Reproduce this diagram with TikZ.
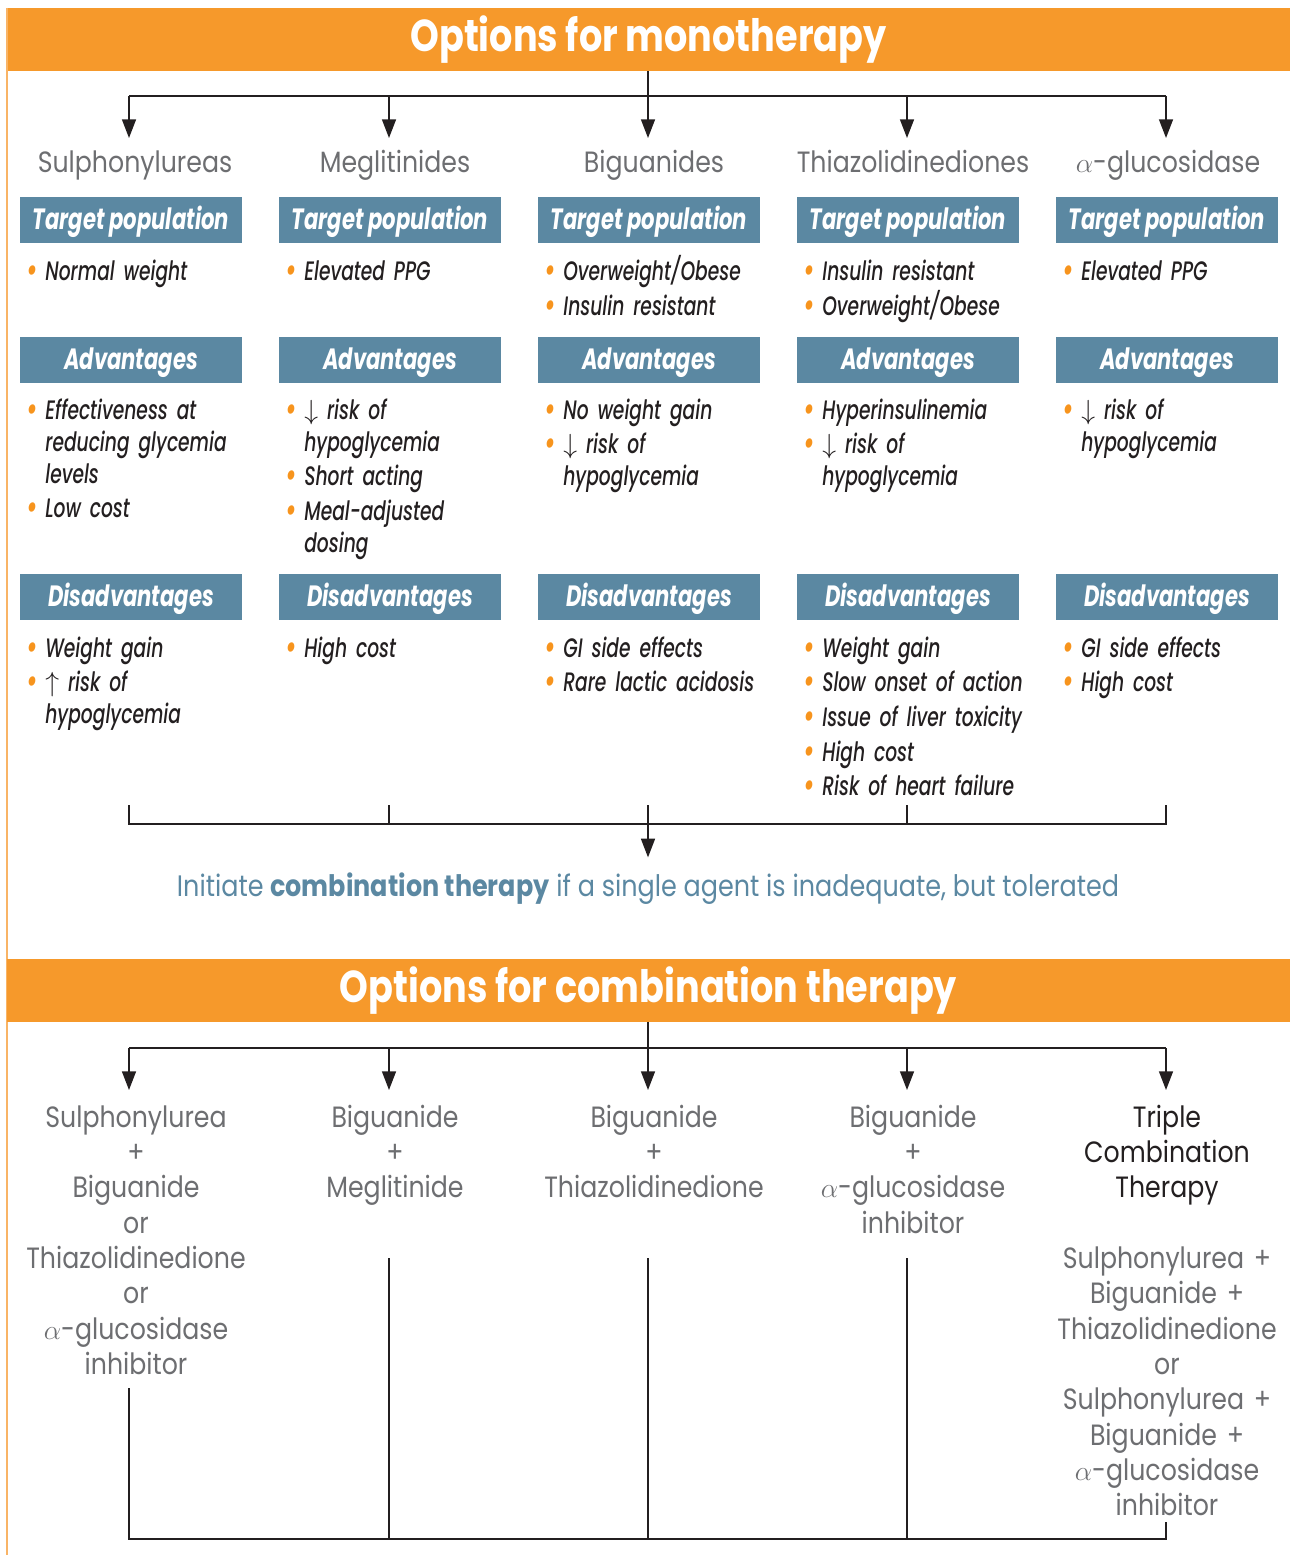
\documentclass[tikz,border=0pt]{standalone}
\usepackage{fontspec}
\setmainfont{Poppins}[FakeStretch=0.86]
\newfontfamily\bandfont{Poppins}[FakeStretch=0.82]
\newfontfamily\narrowfont{Poppins}[FakeStretch=0.72]
\newfontfamily\mednarrowfont{Poppins}[UprightFont={* Medium}, ItalicFont={* Medium Italic}, BoldFont={* Bold}, BoldItalicFont={* Bold Italic}, FakeStretch=0.7]
\usetikzlibrary{arrows.meta,positioning}
\definecolor{bandorange}{HTML}{F6992B}
\definecolor{edgeorange}{HTML}{F9B466}
\definecolor{dotorange}{HTML}{F7941D}
\definecolor{boxblue}{HTML}{5B88A2}
\definecolor{druggrey}{HTML}{6D6E71}
\definecolor{inkdark}{HTML}{231F20}
\newcommand{\itm}[1]{\hangindent=14.25pt\hangafter=1\noindent\makebox[14.25pt][l]{\raisebox{-1.5pt}{\textcolor{dotorange}{\fontsize{27}{24}\selectfont\textbullet}}}#1\par\vspace{2pt}}
\tikzset{%
band/.style={fill=bandorange, text=white, minimum width=962.25pt, minimum height=47pt, inner sep=0pt, font=\bandfont\bfseries\fontsize{33.5}{36}\selectfont},
hdbox/.style={fill=boxblue, text=white, minimum width=166.5pt, minimum height=34.5pt, inner sep=0pt, text height=19pt, text depth=5pt, font=\narrowfont\bfseries\itshape\fontsize{22}{26}\selectfont},
pts/.style={anchor=base west, xshift=4.75pt, inner sep=0pt, text width=180pt, align=left, text=inkdark, font=\mednarrowfont\itshape\fontsize{20}{24}\selectfont},
drug/.style={anchor=base, inner sep=0pt, text=druggrey, font=\fontsize{22}{26.5}\selectfont},
combo/.style={drug, text width=190pt, align=center},
link/.style={draw=inkdark, line width=1.1pt},
arr/.style={link, -{Triangle[length=14pt, width=10.5pt]}}
}
\begin{document}
\begin{tikzpicture}[x=0.75pt, y=-0.75pt]
	\useasboundingbox (0,0) rectangle (1290,1555);
	\node[band] (hdr1) at (648.5,39.5) {Options for monotherapy};
	\draw[edgeorange, line width=1.5pt] (hdr1.north west) -- (hdr1.north west |- 0,1555);
	
	\node[drug] (t1) at (135,173) {Sulphonylureas};
	\node[drug] (t2) at (395,173) {Meglitinides};
	\node[drug] (t3) at (654,173) {Biguanides};
	\node[drug] (t4) at (913,173) {Thiazolidinediones};
	\node[drug] (t5) at (1168,173) {$\alpha$-glucosidase};
	
	\node[hdbox] (tp1) at (131,220.5) {Target population};
	\node[hdbox] (tp2) at (390,220.5) {Target population};
	\node[hdbox] (tp3) at (649,220.5) {Target population};
	\node[hdbox] (tp4) at (908,220.5) {Target population};
	\node[hdbox] (tp5) at (1167,220.5) {Target population};
	\node[below=27.75pt of tp1.south west, pts] (tl1) {\itm{Normal weight}};
	\node[below=27.75pt of tp2.south west, pts] (tl2) {\itm{Elevated PPG}};
	\node[below=27.75pt of tp3.south west, pts] (tl3) {\itm{Overweight/Obese}\itm{Insulin resistant}};
	\node[below=27.75pt of tp4.south west, pts] (tl4) {\itm{Insulin resistant}\itm{Overweight/Obese}};
	\node[below=27.75pt of tp5.south west, pts] (tl5) {\itm{Elevated PPG}};
	
	\node[hdbox] (ad1) at (131,360) {Advantages};
	\node[hdbox] (ad2) at (390,360) {Advantages};
	\node[hdbox] (ad3) at (649,360) {Advantages};
	\node[hdbox] (ad4) at (908,360) {Advantages};
	\node[hdbox] (ad5) at (1167,360) {Advantages};
	\node[below=27pt of ad1.south west, pts] (al1) {\itm{Effectiveness at\newline reducing glycemia\newline levels}\itm{Low cost}};
	\node[below=27pt of ad2.south west, pts] (al2) {\itm{$\downarrow$ risk of\newline hypoglycemia}\itm{Short acting}\itm{Meal-adjusted\newline dosing}};
	\node[below=27pt of ad3.south west, pts] (al3) {\itm{No weight gain}\itm{$\downarrow$ risk of\newline hypoglycemia}};
	\node[below=27pt of ad4.south west, pts] (al4) {\itm{Hyperinsulinemia}\itm{$\downarrow$ risk of\newline hypoglycemia}};
	\node[below=27pt of ad5.south west, pts] (al5) {\itm{$\downarrow$ risk of\newline hypoglycemia}};
	
	\node[hdbox] (da1) at (131,597) {Disadvantages};
	\node[hdbox] (da2) at (390,597) {Disadvantages};
	\node[hdbox] (da3) at (649,597) {Disadvantages};
	\node[hdbox] (da4) at (908,597) {Disadvantages};
	\node[hdbox] (da5) at (1167,597) {Disadvantages};
	\node[below=27.75pt of da1.south west, pts] (dl1) {\itm{Weight gain}\itm{$\uparrow$ risk of\newline hypoglycemia}};
	\node[below=27.75pt of da2.south west, pts] (dl2) {\itm{High cost}};
	\node[below=27.75pt of da3.south west, pts] (dl3) {\itm{GI side effects}\itm{Rare lactic acidosis}};
	\node[below=27.75pt of da4.south west, pts] (dl4) {\itm{Weight gain}\itm{Slow onset of action}\itm{Issue of liver toxicity}\itm{High cost}\itm{Risk of heart failure}};
	\node[below=27.75pt of da5.south west, pts] (dl5) {\itm{GI side effects}\itm{High cost}};
	
	\node[anchor=base, inner sep=0pt, text=boxblue, font=\fontsize{22.2}{24}\selectfont] (init) at (648,896)
		{Initiate \textbf{combination therapy} if a single agent is inadequate, but tolerated};
	
	\node[band] (hdr2) at (648.5,990.5) {Options for combination therapy};
	
	\node[combo] (cb1) at (136,1127) {Sulphonylurea\\+\\Biguanide\\or\\Thiazolidinedione\\or\\$\alpha$-glucosidase\\inhibitor};
	\node[combo] (cb2) at (395,1127) {Biguanide\\+\\Meglitinide};
	\node[combo] (cb3) at (654,1127) {Biguanide\\+\\Thiazolidinedione};
	\node[combo] (cb4) at (913,1127) {Biguanide\\+\\$\alpha$-glucosidase\\inhibitor};
	\node[combo] (cb5) at (1167,1127) {\textcolor{inkdark}{Triple\\Combination\\Therapy}\\[26.5pt]Sulphonylurea +\\Biguanide +\\Thiazolidinedione\\or\\Sulphonylurea +\\Biguanide +\\$\alpha$-glucosidase\\inhibitor};
	
	% split to monotherapy options
	\coordinate (a1) at (129,138); \coordinate (a2) at (389,138); \coordinate (a3) at (648,138);
	\coordinate (a4) at (907,138); \coordinate (a5) at (1166,138);
	\coordinate (jt) at (648,96);
	\draw[link] (jt -| a1) -- (jt -| a5);
	\draw[arr] (hdr1.south -| a3) -- (a3);
	\draw[arr] (jt -| a1) -- (a1);
	\draw[arr] (jt -| a2) -- (a2);
	\draw[arr] (jt -| a4) -- (a4);
	\draw[arr] (jt -| a5) -- (a5);
	
	% merge to combination advice
	\coordinate (m1) at (129,805); \coordinate (m2) at (389,805); \coordinate (m3) at (648,805);
	\coordinate (m4) at (907,805); \coordinate (m5) at (1166,805);
	\coordinate (jm) at (648,824);
	\draw[link] (m1) |- (jm) -| (m5);
	\draw[link] (m2) -- (m2 |- jm);
	\draw[link] (m4) -- (m4 |- jm);
	\draw[arr, shorten >=11pt] (m3) -- (m3 |- init.north);
	
	% split to combination options
	\coordinate (c1) at (129,1090); \coordinate (c2) at (389,1090); \coordinate (c3) at (648,1090);
	\coordinate (c4) at (907,1090); \coordinate (c5) at (1166,1090);
	\coordinate (jc) at (648,1048);
	\draw[link] (jc -| c1) -- (jc -| c5);
	\draw[arr] (hdr2.south -| c3) -- (c3);
	\draw[arr] (jc -| c1) -- (c1);
	\draw[arr] (jc -| c2) -- (c2);
	\draw[arr] (jc -| c4) -- (c4);
	\draw[arr] (jc -| c5) -- (c5);
	
	% closing bracket
	\coordinate (e1) at (129,1388); \coordinate (e2) at (389,1258); \coordinate (e3) at (648,1258);
	\coordinate (e4) at (907,1258); \coordinate (e5) at (1166,1522);
	\coordinate (jb) at (648,1539);
	\draw[link] (e1) |- (jb) -| (e5);
	\draw[link] (e2) -- (e2 |- jb);
	\draw[link] (e3) -- (e3 |- jb);
	\draw[link] (e4) -- (e4 |- jb);
\end{tikzpicture}
\end{document}
